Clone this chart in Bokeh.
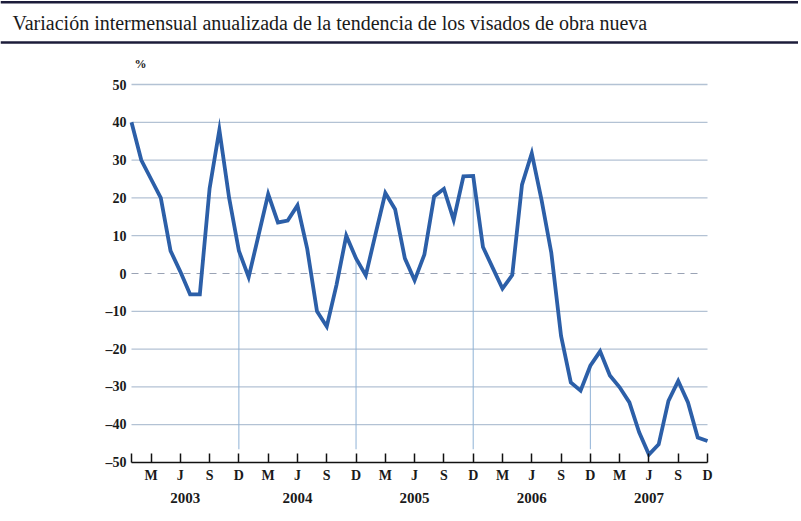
from bokeh.plotting import figure
from bokeh.models import FixedTicker, LinearAxis, ColumnDataSource
from bokeh.core.properties import value
from bokeh.embed import file_html
from bokeh.resources import INLINE

# ---------------- data ----------------
title_text = "Variación intermensual anualizada de la tendencia de los visados de obra nueva"
unit_text = "%"

# monthly values, Jan 2003 .. Dec 2007 (month index 0..59)
values = [40, 30, 25, 20, 6, 0.5, -5.5, -5.5, 22.5, 38, 20, 6,
          -1, 10, 21, 13.5, 14, 18, 6.5, -10, -14, -3, 10, 4,
          -0.5, 10.5, 21.3, 17, 4, -1.8, 5, 20.4, 22.4, 14.2, 25.7, 25.8,
          7, 1.5, -4, -0.4, 23.5, 31.8, 19.5, 5.5, -16.5, -28.8, -31, -24.4,
          -20.6, -27, -30.1, -34.1, -42, -47.9, -45.2, -33.7, -28.4, -34.1, -43.4, -44.3]
months = list(range(len(values)))

month_tick_pos = [0] + [m + 12 * y for y in range(5) for m in (2, 5, 8, 11)]
month_tick_lab = [""] + ["M", "J", "S", "D"] * 5
year_pos = [5.5, 17, 29, 41, 53]
year_lab = ["2003", "2004", "2005", "2006", "2007"]
y_ticks = [-50, -40, -30, -20, -10, 0, 10, 20, 30, 40, 50]
y_labels = ["\u201350", "\u201340", "\u201330", "\u201320", "\u201310", "0",
            "10", "20", "30", "40", "50"]
dec_idx = [11, 23, 35, 47]
drop_bottom = -46.5

FONT = "Liberation Serif"
LINE_COL = "#2c5fa8"
GRID_COL = "#b3c2d4"
RULE_COL = "#1c1c3a"
TXT_COL = "#1a1a1a"

# ---------------- geometry (pixels) ----------------
W = 798
H = 514
LEFT_PX = 131            # where month 0 sits
DATA_W = 576             # pixels spanned by months 0..59
TOP_PX = 84              # where +50 sits
DATA_H = 378             # pixels spanned by -50..50
n = len(values) - 1
ppx = DATA_W / n
ppy = DATA_H / 100.0
x0 = -LEFT_PX / ppx
x1 = n + (W - LEFT_PX - DATA_W) / ppx
ytop = 50 + TOP_PX / ppy
ybot = -50 - (H - TOP_PX - DATA_H) / ppy

def px_x(px):
    return (px - LEFT_PX) / ppx

def px_y(py):
    return 50 + (TOP_PX - py) / ppy

p = figure(frame_width=W, frame_height=H, output_backend="svg",
           toolbar_location=None, x_range=(x0, x1), y_range=(ybot, ytop),
           min_border=0, x_axis_location=None, y_axis_location=None)
p.outline_line_color = None
p.xgrid.visible = False
p.ygrid.visible = False

# ---- header: rules, title, unit ----
p.quad(left=[x0, x0], right=[x1, x1], top=[px_y(0.5), px_y(40.8)],
       bottom=[px_y(3), px_y(43.2)], fill_color=RULE_COL, line_color=None)
p.text(x=[px_x(12)], y=[px_y(22)], text=[title_text], text_font=value(FONT),
       text_font_size="20px", text_align="left", text_baseline="middle",
       text_color=TXT_COL)
p.text(x=[px_x(140)], y=[px_y(63)], text=[unit_text], text_font=value(FONT),
       text_font_style="bold", text_font_size="12px", text_align="center",
       text_baseline="middle", text_color=TXT_COL)

# ---- horizontal grid lines and y labels ----
grid_y = [t for t in y_ticks if t not in (0, -50)]
p.segment(x0=[0] * len(grid_y), y0=grid_y, x1=[n] * len(grid_y), y1=grid_y,
          line_color=GRID_COL, line_width=1.3)
p.segment(x0=[0], y0=[0], x1=[n - 0.6], y1=[0], line_color="#9aa3b5",
          line_width=1.2, line_dash="7 6")
p.text(x=[0] * len(y_ticks), y=y_ticks, text=y_labels, x_offset=-5,
       text_font=value(FONT), text_font_style="bold", text_font_size="14px",
       text_align="right", text_baseline="middle", text_color=TXT_COL)

# ---- December drop lines ----
p.segment(x0=dec_idx, y0=[values[i] for i in dec_idx], x1=dec_idx,
          y1=[drop_bottom] * len(dec_idx), line_color="#8fb2d6", line_width=1)

# ---- x axes (fixed at -50) ----
xa = LinearAxis(ticker=FixedTicker(ticks=month_tick_pos), bounds=(0, n),
                fixed_location=-50,
                major_label_overrides={t: l for t, l in zip(month_tick_pos, month_tick_lab)})
xa.axis_line_color = "#111111"
xa.axis_line_width = 1.5
xa.major_tick_in = 9
xa.major_tick_out = 0
xa.major_tick_line_color = "#111111"
xa.major_tick_line_width = 1.5
xa.minor_tick_line_color = None
xa.major_label_standoff = 5
xa.major_label_text_font = FONT
xa.major_label_text_font_style = "bold"
xa.major_label_text_font_size = "14px"
xa.major_label_text_color = TXT_COL
p.add_layout(xa, "below")

xy = LinearAxis(ticker=FixedTicker(ticks=year_pos), fixed_location=-50,
                major_label_overrides={t: l for t, l in zip(year_pos, year_lab)})
xy.axis_line_color = None
xy.major_tick_line_color = None
xy.minor_tick_line_color = None
xy.major_tick_in = 0
xy.major_tick_out = 0
xy.major_label_standoff = 30
xy.major_label_text_font = FONT
xy.major_label_text_font_style = "bold"
xy.major_label_text_font_size = "15px"
xy.major_label_text_color = TXT_COL
p.add_layout(xy, "below")

# ---- data line ----
src = ColumnDataSource(dict(x=months, y=values))
p.line("x", "y", source=src, line_color=LINE_COL, line_width=3.8, line_join="miter")

open("out.html", "w").write(file_html(p, INLINE))
